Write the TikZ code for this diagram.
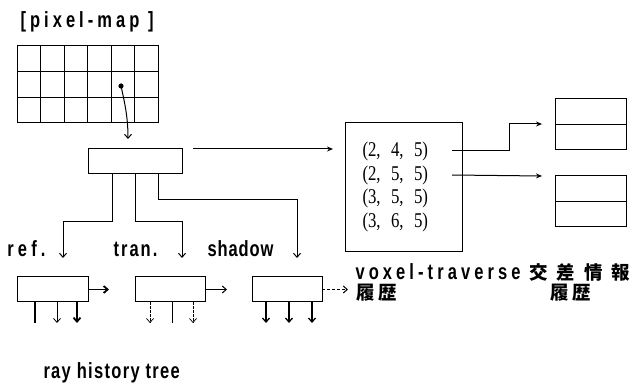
\documentclass[tikz,border=0pt]{standalone}
\usepackage{fontspec}
\usepackage{graphicx}
\setmainfont{Liberation Sans}
\newfontfamily\serf{Liberation Serif}
\newfontfamily\cjk{Noto Sans CJK JP}
\usetikzlibrary{arrows.meta}
\newcommand\lbl[2]{\scalebox{0.75}[1]{\fontsize{22}{26}\selectfont\bfseries\addfontfeature{LetterSpace=#1}#2}}
\newcommand\tri[3]{\scalebox{0.8}[1]{\serf\fontsize{21}{24}\selectfont(#1,\hspace{13pt}#2,\hspace{13pt}#3)}}
\newcommand\cjtxt[1]{{\cjk\bfseries\fontsize{18.5}{22}\selectfont #1}}
\begin{document}
\begin{tikzpicture}[x=1pt,y=-1pt,line width=1pt,
  box/.style={draw,inner sep=0pt,outer sep=0pt,anchor=north west},
  txt/.style={inner sep=0pt,anchor=west},
  barb/.style={-{Straight Barb[length=4pt,width=7pt]}},
  solidtip/.style={-{Stealth[length=6pt,width=5pt]}}]
\useasboundingbox (0,0) rectangle (635,387);

% pixel map
\node[txt] (title) at (20,22) {\lbl{24.5}{[pixel-map ]}};
\node[box,minimum width=141pt,minimum height=77pt] (pm) at (17,46) {};
\foreach \i in {1,...,5} \draw (17+\i*23.5,46) -- (17+\i*23.5,123);
\draw (17,71.7) -- (158,71.7);
\draw (17,97.3) -- (158,97.3);
\coordinate (dot) at (121,86);
\fill (dot) circle (2.6);
\coordinate (tip) at (128,139);
\draw[barb] (dot) .. controls (125,104) and (128,118) .. (tip);

% central box
\node[box,minimum width=94pt,minimum height=25pt] (cb) at (88,149) {};
\coordinate (cs) at (193,149);
\coordinate (ce) at (333,149);
\draw[solidtip] (cs) -- (ce);

% branches
\coordinate (ra) at (63,258);
\coordinate (ta) at (182,258);
\coordinate (sa) at (297,258);
\draw[barb] (cb.south -| 112,0) -- (112,222) -- (63,222) -- (ra);
\draw[barb] (cb.south -| 135,0) -- (135,222) -- (182,222) -- (ta);
\draw[barb] (cb.south -| 158,0) -- (158,200) -- (297,200) -- (sa);

\node[txt] (lref) at (7,249) {\lbl{24.8}{ref.}};
\node[txt] (ltran) at (113,249) {\lbl{12.4}{tran.}};
\node[txt] (lsh) at (207,249) {\lbl{5.6}{shadow}};

% bottom boxes
\node[box,minimum width=71pt,minimum height=25pt] (b1) at (17,277) {};
\node[box,minimum width=70pt,minimum height=25pt] (b2) at (135,277) {};
\node[box,minimum width=70pt,minimum height=25pt] (b3) at (252,277) {};
\coordinate (e1) at (109,289.5);
\coordinate (e2) at (227,289.5);
\coordinate (e3) at (348,289.5);
\draw[barb,line width=1.8pt] (b1.east) -- (e1);
\draw[barb] (b2.east) -- (e2);
\draw[barb,dash pattern=on 3pt off 2pt] (b3.east) -- (e3);

\coordinate (d11) at (35,323);
\coordinate (d12) at (57,323);
\coordinate (d13) at (77,323);
\draw[line width=1.3pt] (b1.south -| d11) -- (d11);
\draw[barb,line width=0.8pt] (b1.south -| d12) -- (d12);
\draw[barb,line width=1.8pt] (b1.south -| d13) -- (d13);
\coordinate (d21) at (150,323);
\coordinate (d22) at (172,323);
\coordinate (d23) at (193,323);
\draw[barb,line width=0.7pt,dash pattern=on 3pt off 1pt] (b2.south -| d21) -- (d21);
\draw[line width=0.9pt] (b2.south -| d22) -- (d22);
\draw[barb,line width=0.7pt,dash pattern=on 3pt off 1pt] (b2.south -| d23) -- (d23);
\coordinate (d31) at (266,323);
\coordinate (d32) at (289,323);
\coordinate (d33) at (312,323);
\draw[barb,line width=1.3pt] (b3.south -| d31) -- (d31);
\draw[barb,line width=1.3pt] (b3.south -| d32) -- (d32);
\draw[barb,line width=1.3pt] (b3.south -| d33) -- (d33);

\node[txt] (rht) at (43,373) {\lbl{8}{ray history tree}};

% voxel box
\node[box,minimum width=117pt,minimum height=129pt] (vb) at (345,123) {};
\node[txt] (v1) at (362,151) {\tri245};
\node[txt] (v2) at (362,175) {\tri255};
\node[txt] (v3) at (362,198) {\tri355};
\node[txt] (v4) at (362,222) {\tri365};

\node[box,minimum width=71pt,minimum height=51pt] (ia) at (555,99) {};
\draw (ia.west) -- (ia.east);
\node[box,minimum width=71pt,minimum height=51pt] (ib) at (555,176) {};
\draw (ib.west) -- (ib.east);

\coordinate (a1) at (542,124);
\coordinate (a2) at (542,176);
\draw[solidtip] (v1.east -| 452,0) -- (509,151) -- (509,124) -- (a1);
\draw[solidtip] (v2.east -| 452,0) -- (a2);

\node[txt] (vt) at (355,272) {\lbl{24.8}{voxel-traverse}};
\node[txt] (vr) at (356,293) {\cjtxt{履\hspace{3pt}歴}};
\node[txt] (kj) at (529,272) {\cjtxt{交\hspace{9pt}差\hspace{9pt}情\hspace{9pt}報}};
\node[txt] (kr) at (550,293) {\cjtxt{履\hspace{3pt}歴}};
\end{tikzpicture}
\end{document}
